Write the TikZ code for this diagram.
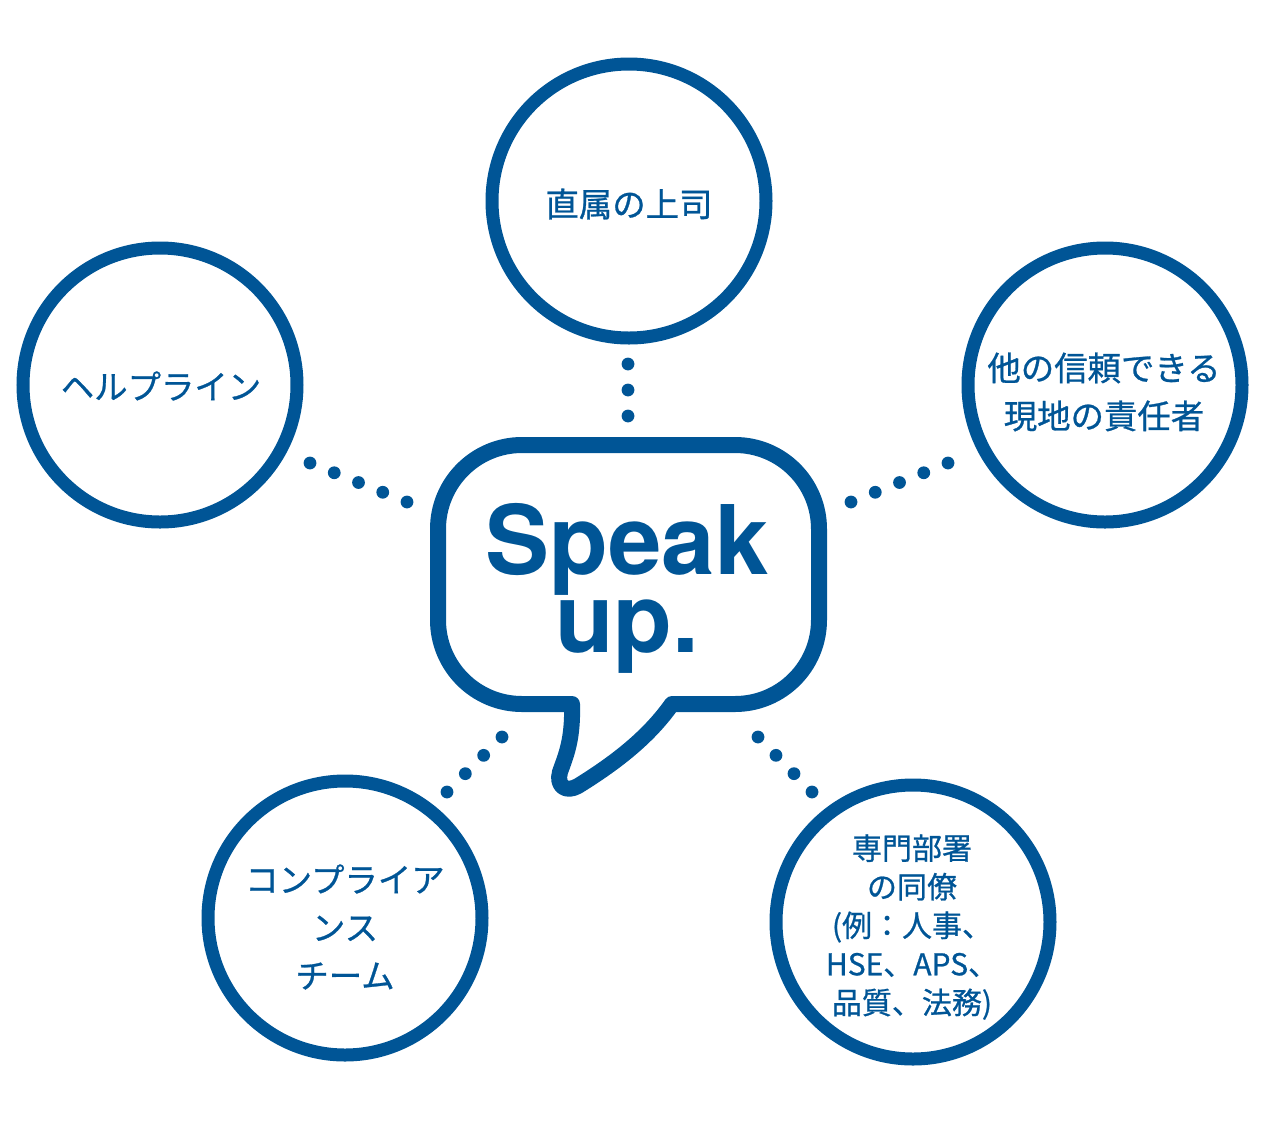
\documentclass[tikz,border=0pt]{standalone}
\usepackage{fontspec}
\newfontfamily\jpfont[FakeBold=0.8]{Noto Sans CJK JP}
\newfontfamily\speakfont{TeX Gyre Heros}
\usepackage{tikz}
\usetikzlibrary{calc}
\definecolor{spkblue}{RGB}{0,85,150}
\tikzstyle{ring} = [circle, draw=spkblue, line width=6.5pt, minimum size=137pt, inner sep=0pt]
\tikzstyle{ringtext} = [inner sep=0pt, text=spkblue, align=center, font=\fontsize{16.7}{24}\selectfont\jpfont]
\tikzstyle{small ringtext} = [ringtext, font=\fontsize{15}{19.3}\selectfont\jpfont]
\tikzstyle{bubble} = [draw=spkblue, line width=8pt, line join=round]
\tikzstyle{dot} = [fill=spkblue]

\begin{document}
\begin{tikzpicture}[x=0.5pt, y=-0.5pt]
    \useasboundingbox (0,0) rectangle (1265,1126);
    % speech bubble
    \draw[bubble] (672,704) [rounded corners=42pt] -| (819,445) -| (438,704) [sharp corners] -- (572,704)
        .. controls (573,740) and (566,755) .. (560,772)
        .. controls (556,786) and (566,793) .. (578,786)
        .. controls (620,760) and (650,735) .. cycle;
    \node(speak)[text=spkblue, align=center, inner sep=0pt, font=\fontsize{48}{39}\selectfont\speakfont\bfseries] at (627,588) {Speak\\up.};
    % the five contacts
    \node(boss)[ring] at (629,201) {};
    \node(help)[ring] at (160,385) {};
    \node(trust)[ring] at (1105,385) {};
    \node(comp)[ring] at (345,918) {};
    \node(expert)[ring] at (913,922) {};
    \node(boss text)[ringtext] at (629,204) {直属の上司};
    \node(help text)[ringtext] at (161,386) {ヘルプライン};
    \node(trust text)[ringtext] at (1104,392) {他の信頼できる\\現地の責任者};
    \node(comp text)[ringtext] at (345,927) {コンプライア\\ンス\\チーム};
    \node(expert text)[small ringtext] at (912,927) {専門部署\\の同僚\\(例：人事、\\HSE、APS、\\品質、法務)};
    % dotted links
    \coordinate(boss a) at (628,364);  \coordinate(boss b) at (628,416);
    \coordinate(help a) at (310,463);  \coordinate(help b) at (407,502);
    \coordinate(trust a) at (948,463); \coordinate(trust b) at (851,502);
    \coordinate(comp a) at (447,792);  \coordinate(comp b) at (502,737);
    \coordinate(expert a) at (812,792); \coordinate(expert b) at (758,737);
    \foreach \a/\k in {boss/2, help/4, trust/4, comp/3, expert/3}
        \foreach \i in {0,...,\k}
            \fill[dot] ($(\a\space a)!\i/\k!(\a\space b)$) circle (3.2pt);
\end{tikzpicture}
\end{document}
